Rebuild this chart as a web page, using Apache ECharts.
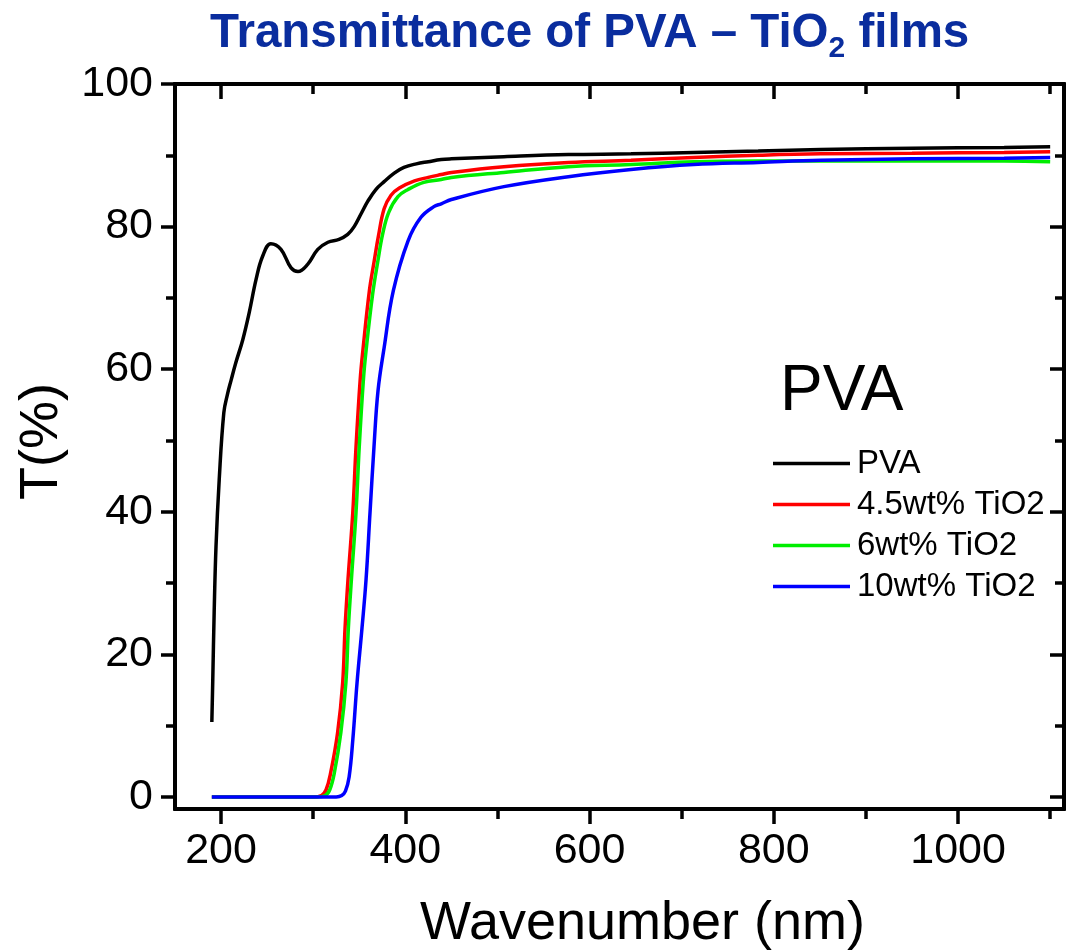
<!DOCTYPE html>
<html>
<head>
<meta charset="utf-8">
<title>Transmittance of PVA – TiO2 films</title>
<script src="https://cdn.jsdelivr.net/npm/echarts@6.0.0/dist/echarts.min.js"></script>
<style>
  html, body { margin: 0; padding: 0; background: #fff; }
  #chart { width: 1067px; height: 951px; }
</style>
</head>
<body>
<div id="chart"></div>
<script>
// wavelength (nm) / transmittance (%)
const pvaWave = [190, 191, 192.5, 194.5, 198, 203, 207, 211, 216, 223.5, 230.5, 238, 245, 254, 265, 276, 283.5, 294, 305, 316, 328, 337.5, 344.5, 352, 359.5, 368, 377, 388, 398.5, 412, 425, 439, 450, 507, 577, 645, 713, 783, 851, 950, 1050, 1100]
const pvaT = [10.5, 16.4, 25.8, 35.1, 44.5, 53.9, 56.5, 58.5, 60.9, 64.1, 67.9, 72.6, 75.8, 77.6, 76.8, 74.2, 73.7, 74.7, 76.8, 77.8, 78.2, 78.9, 80.0, 81.8, 83.6, 85.2, 86.3, 87.5, 88.3, 88.8, 89.1, 89.4, 89.5, 89.8, 90.1, 90.2, 90.4, 90.6, 90.8, 91.0, 91.1, 91.2]

const ti45Wave = [190, 300, 309, 314, 319, 326.5, 332, 334.6, 337.8, 343, 346.5, 351, 354, 361, 366, 371, 377, 384.5, 393.5, 410, 425, 439, 450, 507, 577, 645, 713, 783, 851, 950, 1050, 1100]
const ti45T = [0, 0, 0.2, 1.0, 3.4, 9.0, 16.0, 23.7, 30.5, 39.9, 49.1, 58.5, 62.7, 71.0, 75.0, 78.8, 82.5, 84.4, 85.4, 86.4, 86.9, 87.3, 87.6, 88.4, 89.0, 89.3, 89.7, 90.0, 90.2, 90.3, 90.4, 90.5]

const ti6Wave = [190, 304, 313, 318, 323, 330, 335.5, 338.2, 341.5, 346.5, 350, 354.5, 357.5, 364.5, 370, 375.5, 382, 392, 403, 420, 439, 450, 507, 577, 645, 713, 783, 851, 950, 1050, 1100]
const ti6T = [0, 0, 0.2, 1.0, 3.4, 9.0, 16.0, 23.7, 30.5, 39.9, 49.1, 58.5, 62.7, 70.5, 75.0, 79.0, 82.0, 84.2, 85.2, 86.2, 86.6, 86.9, 87.6, 88.4, 88.7, 89.1, 89.2, 89.2, 89.2, 89.2, 89.1]

const ti10Wave = [190, 325, 331, 335, 339, 343, 347.6, 353, 357.4, 361.7, 366, 370.4, 377, 387, 403, 417, 431, 439, 450, 507, 577, 645, 713, 783, 851, 950, 1050, 1100]
const ti10T = [0, 0, 0.2, 0.8, 2.8, 8.0, 16.0, 23.7, 30.5, 39.9, 49.1, 57.0, 63.0, 71.0, 78.0, 81.3, 82.8, 83.2, 83.8, 85.6, 87.0, 88.0, 88.7, 89.0, 89.3, 89.5, 89.6, 89.7]

const seriesNames = ['PVA', '4.5wt% TiO2', '6wt% TiO2', '10wt% TiO2']
const seriesColors = ['#000000', '#ff0000', '#00ee00', '#0000ff']

const xMajor = [200, 400, 600, 800, 1000]
const xMinor = [300, 500, 700, 900, 1100]
const yMajor = [0, 20, 40, 60, 80, 100]
const yMinor = [10, 30, 50, 70, 90]

const FONT = '"Liberation Sans", Arial, Helvetica, sans-serif'
const TITLE_BLUE = '#0a2d9e'

function pairs(xs, ys) {
  return xs.map((x, i) => [x, ys[i]])
}

// one axis per tick set; ticks on top/right point inwards like the original
function axis(position, min, max, ticks, len, inside, labels) {
  return {
    type: 'value',
    position: position,
    min: min,
    max: max,
    axisLine: { show: true, onZero: false, lineStyle: { color: '#000', width: 4 } },
    axisTick: { show: true, inside: inside, length: len, customValues: ticks,
      lineStyle: { color: '#000', width: 3.5 } },
    axisLabel: labels ? Object.assign({ show: true, customValues: ticks, color: '#000',
      fontSize: 43, fontFamily: FONT, formatter: v => String(v) }, labels) : { show: false },
    splitLine: { show: false }
  }
}

const xBottom = axis('bottom', 150, 1115, xMajor, 15, false, { margin: 21 })
xBottom.name = 'Wavenumber (nm)'
xBottom.nameLocation = 'middle'
xBottom.nameGap = 88
xBottom.nameTextStyle = { fontSize: 54, fontFamily: FONT, color: '#000', padding: [0, 0, 0, 46] }

const yLeft = axis('left', -1.7, 100, yMajor, 14, false, { margin: 22 })
yLeft.name = 'T(%)'
yLeft.nameLocation = 'middle'
yLeft.nameGap = 106
yLeft.nameTextStyle = { fontSize: 54, fontFamily: FONT, color: '#000', padding: [0, 0, 0, 10] }

let chartDom = document.getElementById('chart')
let myChart = echarts.init(chartDom, null, { renderer: 'canvas' })

let option = {
  backgroundColor: '#fff',
  animation: false,
  title: [
    {
      left: 210,
      top: 4,
      padding: 0,
      text: '{a|Transmittance of PVA – TiO}{s|2}{a| films}',
      textStyle: {
        rich: {
          a: { fontSize: 47.5, fontWeight: 'bold', fontFamily: FONT, color: TITLE_BLUE, lineHeight: 60 },
          s: { fontSize: 30, fontWeight: 'bold', fontFamily: FONT, color: TITLE_BLUE, lineHeight: 30, verticalAlign: 'bottom' }
        }
      }
    },
    {
      left: 780,
      top: 360,
      padding: 0,
      text: 'PVA',
      textStyle: { fontSize: 64, fontWeight: 'normal', fontFamily: FONT, color: '#000' }
    }
  ],
  legend: {
    orient: 'vertical',
    left: 773,
    top: 447,
    padding: 0,
    icon: 'rect',
    itemWidth: 77,
    itemHeight: 3.5,
    itemGap: 8,
    selectedMode: false,
    textStyle: { fontSize: 33, fontFamily: FONT, color: '#000', lineHeight: 32, padding: [0, 0, 0, 2] },
    data: seriesNames
  },
  grid: {
    left: 175,
    right: 3,
    top: 84,
    bottom: 142,
    containLabel: false,
    outerBoundsMode: 'none'
  },
  xAxis: [
    xBottom,
    axis('bottom', 150, 1115, xMinor, 10, false, null),
    axis('top', 150, 1115, xMajor, 15, true, null),
    axis('top', 150, 1115, xMinor, 10, true, null)
  ],
  yAxis: [
    yLeft,
    axis('left', -1.7, 100, yMinor, 9, false, null),
    axis('right', -1.7, 100, yMajor, 14, true, null),
    axis('right', -1.7, 100, yMinor, 9, true, null)
  ],
  series: [
    [pvaWave, pvaT],
    [ti45Wave, ti45T],
    [ti6Wave, ti6T],
    [ti10Wave, ti10T]
  ].map((d, i) => ({
    name: seriesNames[i],
    type: 'line',
    xAxisIndex: 0,
    yAxisIndex: 0,
    symbol: 'none',
    smooth: 0.4,
    color: seriesColors[i],
    lineStyle: { color: seriesColors[i], width: 3.5 },
    data: pairs(d[0], d[1])
  }))
}

option && myChart.setOption(option)
</script>
</body>
</html>
